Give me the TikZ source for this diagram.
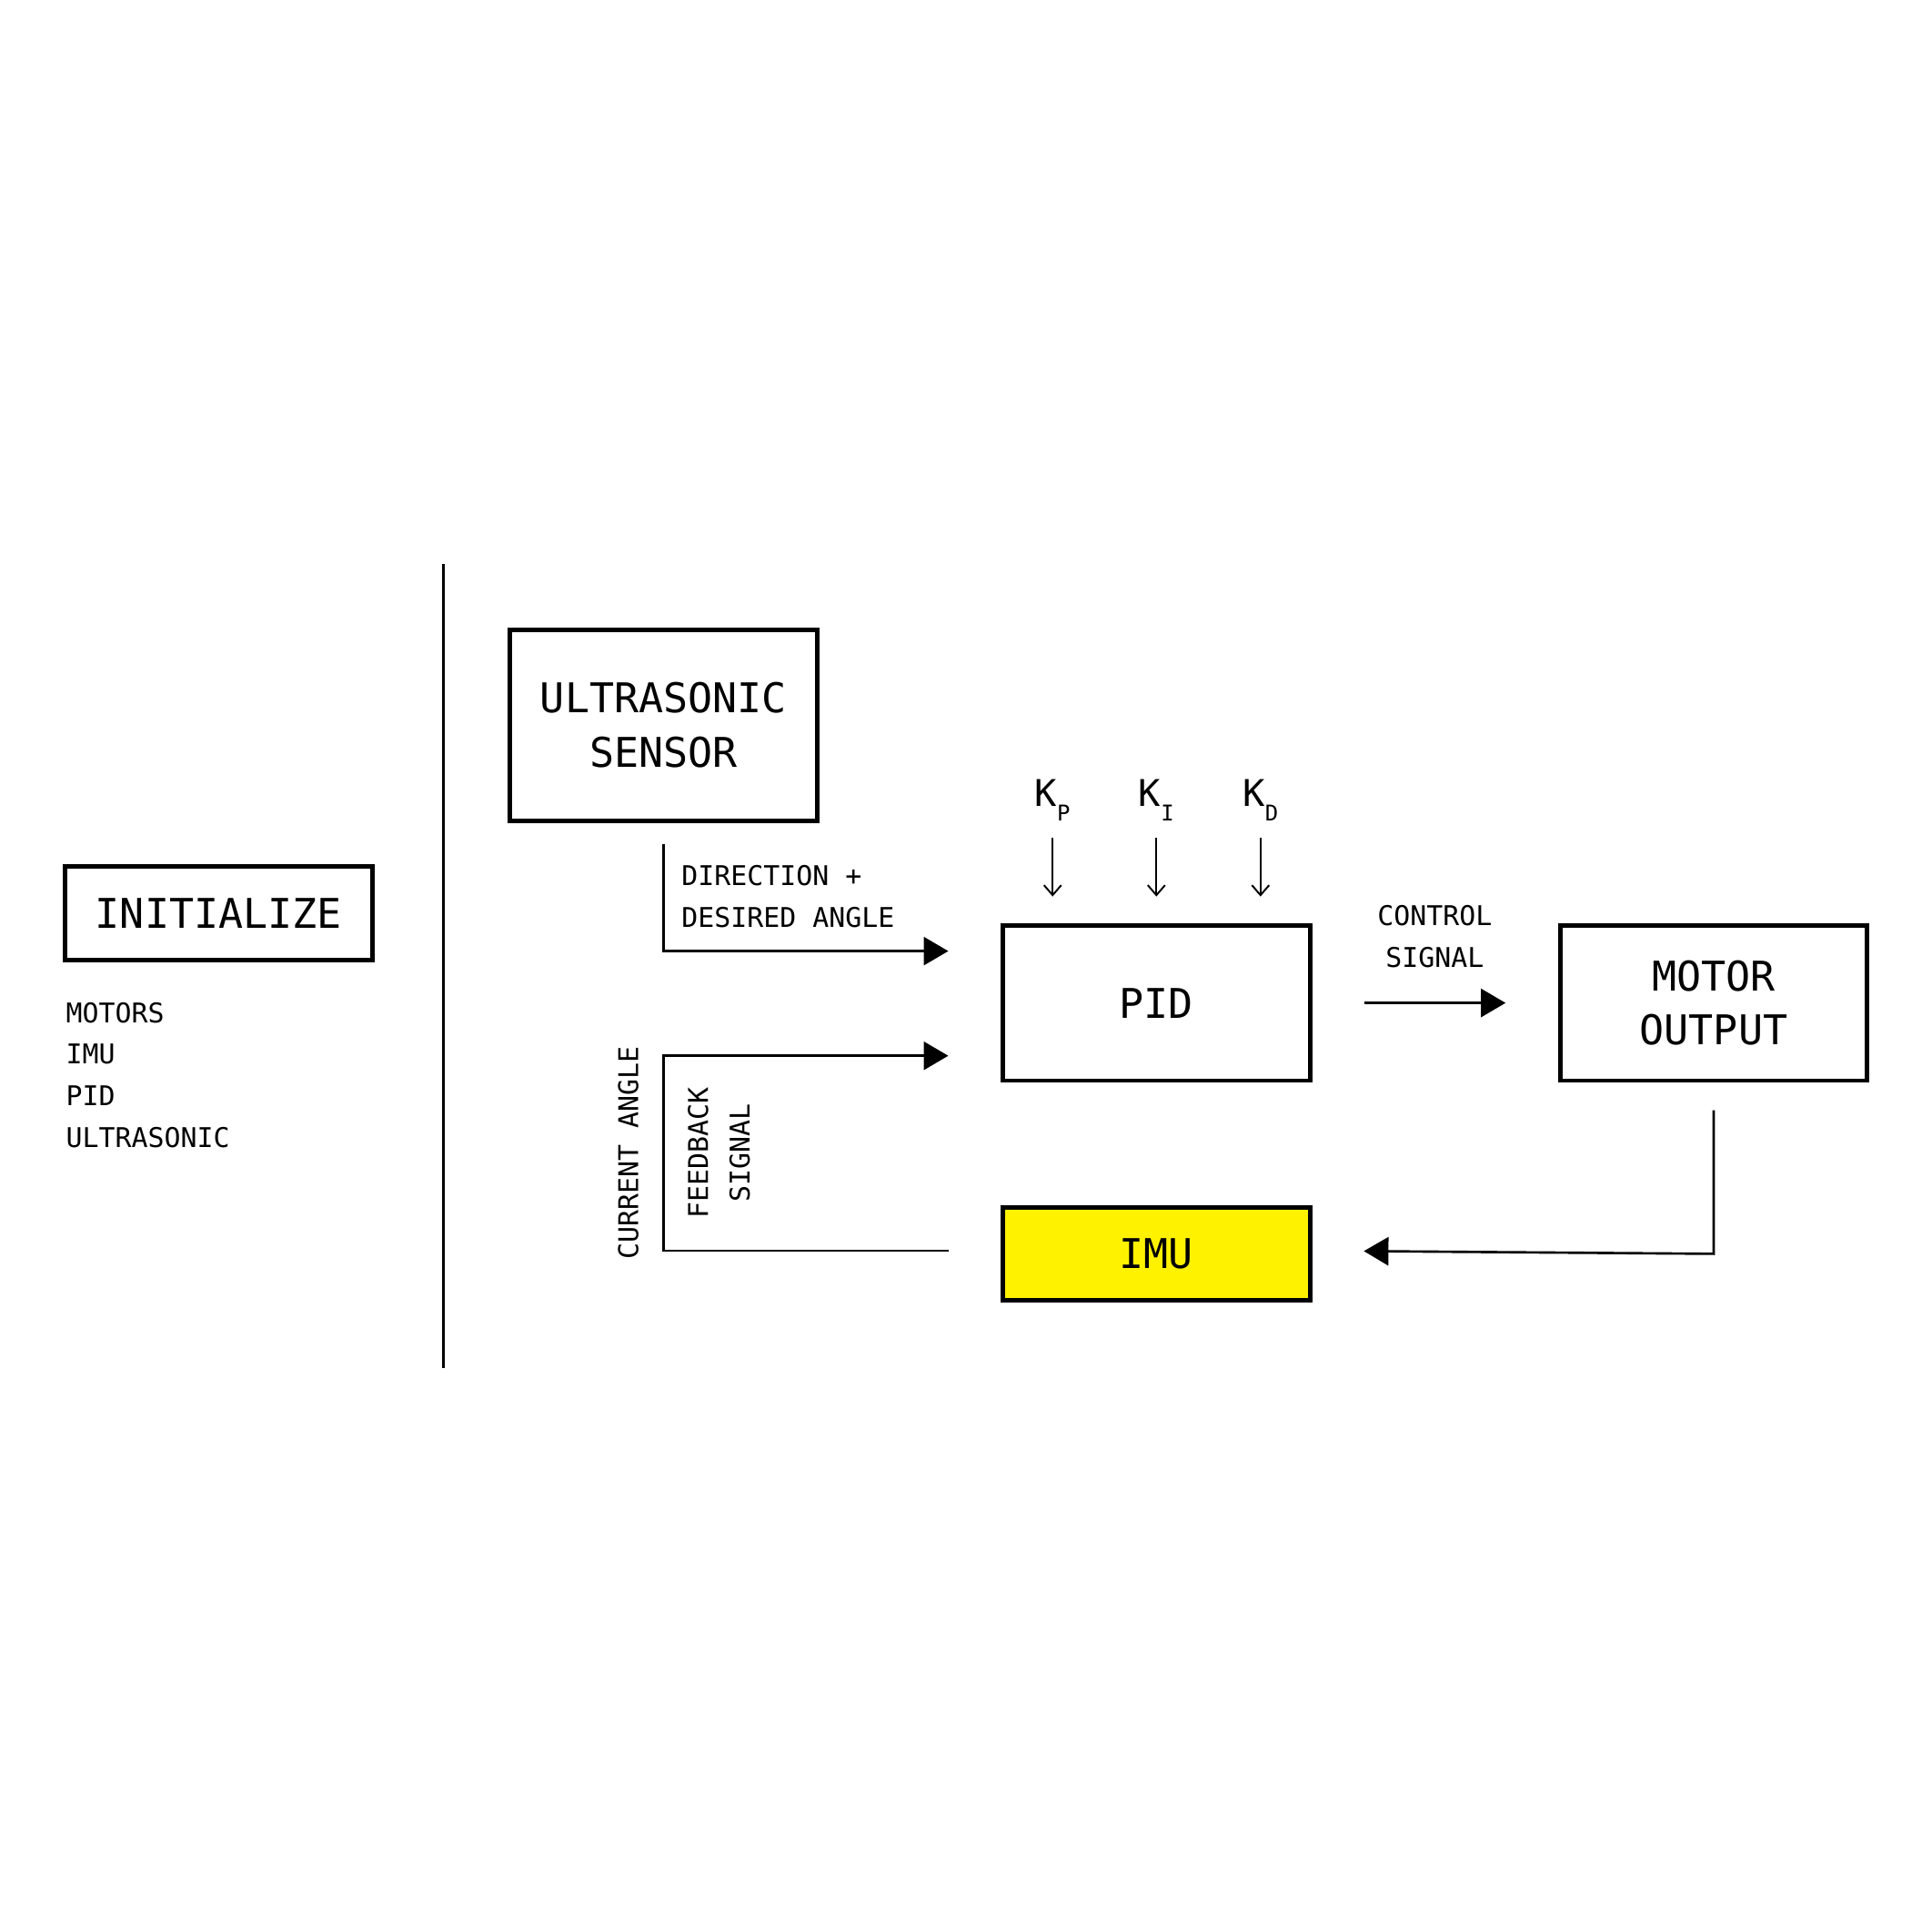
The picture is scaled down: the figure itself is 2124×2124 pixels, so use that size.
\documentclass[tikz,border=0pt]{standalone}
\usepackage{fontspec}
\setmainfont{DejaVu Sans Mono}
\usepackage{xcolor}
\usepackage{tikz}
\usetikzlibrary{arrows.meta,positioning}

\definecolor{imuyellow}{RGB}{255,242,0}
\newcommand{\gainsub}[1]{\raisebox{-4.4pt}{\fontsize{6.8}{6.8}\selectfont #1}}

\begin{document}
\begin{tikzpicture}[
    x=0.01cm, y=-0.01cm,
    block/.style={draw, line width=1.4pt, outer sep=0pt, align=center, minimum width=3.373cm, font=\fontsize{12.8}{17}\selectfont},
    note/.style={align=left, inner sep=0pt, outer sep=0pt, font=\fontsize{8.5}{13}\selectfont},
    gain/.style={inner sep=0pt, outer sep=0pt, font=\fontsize{11.5}{14}\selectfont},
    line/.style={-{Triangle[length=2.7mm, width=3.1mm]}, line width=0.75pt},
    gainline/.style={-{Straight Barb[length=1.1mm, width=1.9mm]}, line width=0.55pt, shorten <=0.194cm, shorten >=0.316cm}
]
\useasboundingbox (0,0) rectangle (2124,2124);

% Setup stage on the left.
\node[block, minimum height=1.029cm] (init) at (240.4,1003.8) {INITIALIZE};
\node[note, below right=0.465cm and 0.01cm of init.south west] (initlist) {MOTORS\\IMU\\PID\\ULTRASONIC};

% Divider between setup and loop.
\draw[line width=0.9pt] (487.7,620.4) -- (487.7,1503.6);

% Control loop blocks.
\node[block, minimum height=2.1cm] (ultra) at (729.4,797.2) {ULTRASONIC\\SENSOR};
\node[block, minimum height=1.707cm] (pid) at (1271.3,1102.6) {PID};
\node[block, minimum height=1.707cm, right=2.75cm of pid] (motor) {MOTOR\\OUTPUT};
\node[block, minimum height=1.016cm, fill=imuyellow, below=1.395cm of pid] (imu) {IMU};

% Gains feeding the PID block.
\node[gain, anchor=base] (kp) at ([xshift=-1.14cm, yshift=1.306cm]pid.north) {K\gainsub{P}};
\node[gain, anchor=base] (ki) at ([xshift=0cm, yshift=1.306cm]pid.north) {K\gainsub{I}};
\node[gain, anchor=base] (kd) at ([xshift=1.144cm, yshift=1.306cm]pid.north) {K\gainsub{D}};
\draw[gainline] (kp) -- (kp |- pid.north);
\draw[gainline] (ki) -- (ki |- pid.north);
\draw[gainline] (kd) -- (kd |- pid.north);

% Free ends of the loop connectors.
\coordinate (dirstart) at ([yshift=-0.26cm]ultra.south);
\coordinate (dirend) at ([xshift=-0.6cm, yshift=-0.284cm]pid.north west);
\coordinate (fbend) at ([xshift=-0.6cm, yshift=0.273cm]pid.south west);
\coordinate (fbstart) at ([xshift=-0.6cm, yshift=0.033cm]imu.west);
\coordinate (ctlstart) at ([xshift=0.595cm]pid.east);
\coordinate (ctlend) at ([xshift=-0.6cm]motor.west);
\coordinate (retstart) at ([yshift=-0.325cm]motor.south);
\coordinate (retcorner) at (retstart |- imu.east);
\coordinate (retend) at ([xshift=0.593cm, yshift=0.03cm]imu.east);

% Loop connectors.
\draw[line] (dirstart) |- node[note, pos=0.5, anchor=south west, xshift=0.2cm, yshift=0.257cm] (dirlabel) {DIRECTION +\\DESIRED ANGLE} (dirend);
\draw[line] (fbstart) -- (fbstart -| dirstart) |- node[note, pos=0.25, rotate=90, anchor=south, outer sep=7.8pt] (curangle) {CURRENT ANGLE} node[note, align=center, pos=0.25, rotate=90, anchor=north, outer sep=7.6pt] (fbsignal) {FEEDBACK\\SIGNAL} (fbend);
\draw[line] (ctlstart) -- node[note, align=center, above=0.39cm] (ctllabel) {CONTROL\\SIGNAL} (ctlend);
\draw[line] (retstart) -- (retcorner) -- (retend);

\end{tikzpicture}
\end{document}
